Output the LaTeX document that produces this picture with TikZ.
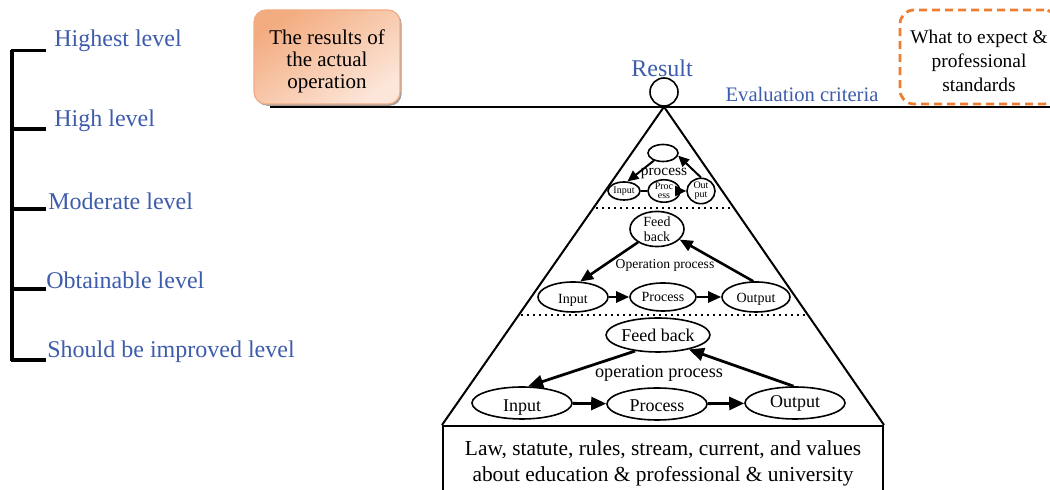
\documentclass[tikz,border=0pt]{standalone}
\usepackage{fontspec}
\setmainfont{Liberation Serif}
\usetikzlibrary{arrows.meta,shapes.geometric,shadows}
\definecolor{lvlblue}{RGB}{62,92,172}
\definecolor{ordark}{RGB}{243,172,128}
\definecolor{ormid}{RGB}{250,218,198}
\definecolor{orlight}{RGB}{252,230,217}
\definecolor{orborder}{RGB}{240,172,132}
\definecolor{ordash}{RGB}{237,125,49}
\begin{document}
\begin{tikzpicture}[x=0.5pt,y=-0.5pt,
  lvl/.style={anchor=west, text=lvlblue, inner sep=0, font=\fontsize{12}{14}\selectfont},
  tick/.style={line width=1.6pt},
  ell/.style={ellipse, draw, line width=0.8pt, inner sep=0, align=center},
  arrS/.style={-{Triangle[length=5.5pt,width=5pt]}, line width=1pt},
  arrM/.style={-{Triangle[length=6.5pt,width=5.5pt]}, line width=1.3pt},
  arrL/.style={-{Triangle[length=7.5pt,width=6.5pt]}, line width=1.4pt},
  sep/.style={dotted, line width=1pt},
  resbox/.style={rounded corners=6pt, draw=orborder, line width=0.6pt,
    top color=ordark, middle color=ormid, bottom color=orlight, shading angle=35,
    drop shadow={shadow xshift=0.8pt, shadow yshift=-0.9pt, fill=black!55, opacity=0.7},
    minimum width=73pt, minimum height=47pt, inner sep=0},
  expbox/.style={rounded corners=7pt, draw=ordash, line width=1.4pt,
    dash pattern=on 4pt off 2.5pt, minimum width=79pt, minimum height=47pt, inner sep=0},
  basebox/.style={draw, line width=1pt, anchor=north, minimum width=220pt,
    minimum height=37pt, align=center, inner sep=0,
    font=\fontsize{10.7}{13}\selectfont}
]
\useasboundingbox (0,0) rectangle (1050,490);

% left scale
\coordinate (vt) at (12,50);
\coordinate (vb) at (12,361);
\draw[line width=2pt] (vt) -- (vb);
\foreach \yy/\nm in {50.5/a,129/b,209/c,289/d,360/e}{
  \coordinate (l\nm) at (11,\yy);
  \coordinate (r\nm) at (46,\yy);
  \draw[tick] (l\nm) -- (r\nm);
}
\node[lvl] (lv1) at (54,41) {Highest level};
\node[lvl] (lv2) at (54,121) {High level};
\node[lvl] (lv3) at (48,201) {Moderate level};
\node[lvl] (lv4) at (46,280) {Obtainable level};
\node[lvl] (lv5) at (47,352) {Should be improved level};

% beam
\coordinate (bl) at (270,107);
\coordinate (br) at (1055,107);
\draw[line width=0.9pt] (bl) -- (br);

% top boxes
\node[resbox, label={[font=\fontsize{10.5}{11}\selectfont, align=center, yshift=-2pt]center:The results of\\the actual\\operation}] (res) at (327,57) {};
\node[expbox, label={[font=\fontsize{9.7}{12}\selectfont, align=center, yshift=-2pt]center:What to expect \&\\professional\\standards}] (exp) at (979,57) {};

% fulcrum
\node[circle, draw, line width=0.8pt, minimum size=14pt, inner sep=0, fill=white] (ful) at (664,92) {};
\node[text=lvlblue, inner sep=0, font=\fontsize{12}{14}\selectfont] (reslbl) at (662,68) {Result};
\node[text=lvlblue, inner sep=0, font=\fontsize{10.3}{12}\selectfont] (evl) at (802,94) {Evaluation criteria};

% base box and triangle
\node[basebox] (base) at (663,425) {Law, statute, rules, stream, current, and values\\about education \& professional \& university};
\draw[line width=1pt] (base.north west) -- (ful.south) -- (base.north east);

% separators
\coordinate (s1l) at (596,208);
\coordinate (s1r) at (734,208);
\coordinate (s2l) at (521,315);
\coordinate (s2r) at (807,315);
\draw[sep] (s1l) -- (s1r);
\draw[sep] (s2l) -- (s2r);

% top small cycle
\node[ell, minimum width=15pt, minimum height=8.5pt] (t1) at (663,153) {};
\node[inner sep=0, font=\fontsize{7.7}{8}\selectfont] (tlbl) at (664,174) {process};
\node[ell, minimum width=16pt, minimum height=9pt, font=\fontsize{5}{5}\selectfont] (tin) at (624,191) {Input};
\node[ell, minimum width=16pt, minimum height=10pt, font=\fontsize{5}{4.6}\selectfont] (tpr) at (664,191) {Proc\\ess};
\node[ell, minimum width=14pt, minimum height=10pt, font=\fontsize{5}{4.6}\selectfont] (tout) at (701,191) {Out\\put};
\draw[line width=0.9pt] (tin) -- (tpr);
\draw[arrS] (tpr) -- (tout);
\draw[arrS] (tout.north) -- (t1.-10);
\draw[arrS] (t1.220) -- (tin.70);

% middle cycle
\node[ell, minimum width=27pt, minimum height=14pt, font=\fontsize{7}{7.5}\selectfont] (mfb) at (657,229) {Feed\\back};
\node[inner sep=0, font=\fontsize{6.8}{8}\selectfont] (mlbl) at (665,265) {Operation process};
\node[ell, minimum width=35pt, minimum height=15pt, label={[font=\fontsize{7}{8}\selectfont, yshift=-1.5pt]center:Input}] (min) at (573,297) {};
\node[ell, minimum width=33pt, minimum height=14pt, font=\fontsize{7}{8}\selectfont] (mpr) at (663,297) {Process};
\node[ell, minimum width=34pt, minimum height=15pt, label={[font=\fontsize{7}{8}\selectfont, yshift=-1pt]center:Output}] (mout) at (756,297) {};
\draw[arrM] (min) -- (mpr);
\draw[arrM] (mpr) -- (mout);
\draw[arrM] (mout.100) -- (mfb.-25);
\draw[arrM] (mfb.215) -- (min.65);

% bottom cycle
\node[ell, minimum width=50pt, minimum height=17pt, font=\fontsize{9}{10}\selectfont] (bfb) at (658,335) {Feed back};
\node[inner sep=0, font=\fontsize{9.1}{10}\selectfont] (blbl) at (659,373) {operation process};
\node[ell, minimum width=50pt, minimum height=16pt, label={[font=\fontsize{9}{10}\selectfont, yshift=-2.5pt]center:Input}] (bin) at (522,403) {};
\node[ell, minimum width=50pt, minimum height=16pt, label={[font=\fontsize{9}{10}\selectfont, yshift=-1pt]center:Process}] (bpr) at (657,404) {};
\node[ell, minimum width=50pt, minimum height=16pt, font=\fontsize{9}{10}\selectfont] (bout) at (795,403) {Output};
\draw[arrL] (bin) -- (bpr);
\draw[arrL] (bpr) -- (bout);
\draw[arrL] (bout.95) -- (bfb.-25);
\draw[arrL] (bfb.215) -- (bin.70);
\end{tikzpicture}
\end{document}
